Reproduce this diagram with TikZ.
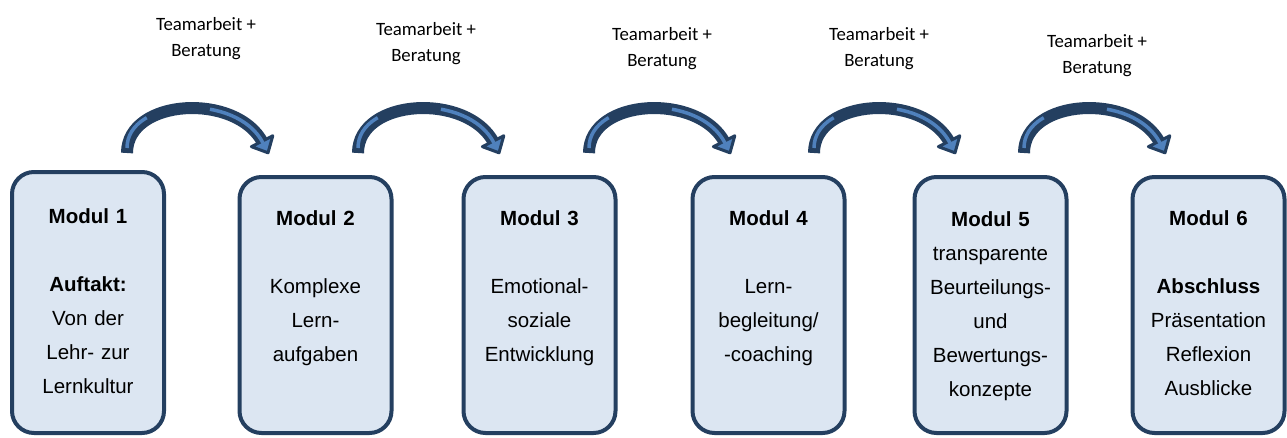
\documentclass[tikz,border=0pt]{standalone}
\usepackage{fontspec}
\setmainfont{Liberation Sans}
\newfontfamily\labelfont{Carlito}
\definecolor{navy}{HTML}{243F60}
\definecolor{boxfill}{HTML}{DCE6F2}
\definecolor{arrowlight}{HTML}{4F81BD}
\tikzset{
  modbox/.style={draw=navy, line width=4pt, fill=boxfill, rounded corners=22pt,
    minimum width=152pt, inner sep=0pt, outer sep=0pt},
  modtext/.style={text width=156pt, align=center, inner sep=0pt,
    font=\fontsize{20.5}{34}\selectfont},
  teamlabel/.style={inner sep=0pt, font=\labelfont\fontsize{18.8}{26.5}\selectfont},
  headstyle/.style={fill=arrowlight, draw=navy, line width=3pt, line join=round},
  arcband/.style={draw=navy, line width=12pt},
  arcstripe/.style={draw=arrowlight, line width=3.5pt, shorten <=5pt,
    dash pattern=on 38pt off 65pt on 200pt},
}
\newcommand\teamarc[2]{%
  \coordinate (a#1s) at (#2,153);
  \coordinate (a#1e) at (#2+136,143);
  \draw[arcband] (a#1s) .. controls +(0,-55) and +(-26,-51) .. (a#1e);
  \filldraw[headstyle, shift={(a#1e)}, rotate=-63] (-2,-12) -- (11,0) -- (-2,12) -- cycle;
  \draw[arcstripe] (a#1s) .. controls +(0,-55) and +(-26,-51) .. (a#1e);
}
\newcommand\teamtext{\begin{tabular}[t]{@{}c@{}}Teamarbeit +\\ Beratung\end{tabular}}
\begin{document}
\begin{tikzpicture}[x=1pt,y=-1pt]
\useasboundingbox (0,0) rectangle (1287,437);

% boxes
\node[modbox, minimum height=261pt] (m1) at (88,302.5) {};
\node[modbox, minimum height=256pt] (m2) at (315.5,305) {};
\node[modbox, minimum height=256pt] (m3) at (539.5,305) {};
\node[modbox, minimum height=256pt] (m4) at (768.5,305) {};
\node[modbox, minimum height=256pt] (m5) at (990.5,305) {};
\node[modbox, minimum height=256pt] (m6) at (1208.5,305) {};

% box texts
\node[modtext, anchor=base] (t1) at (88,223)
  {\textbf{Modul 1}\\ \mbox{}\\ \textbf{Auftakt:}\\ Von der\\ Lehr- zur\\ Lernkultur};
\node[modtext, anchor=base] (t2) at (315.5,225)
  {\textbf{Modul 2}\\ \mbox{}\\ Komplexe\\ Lern-\\ aufgaben};
\node[modtext, anchor=base] (t3) at (539.5,225)
  {\textbf{Modul 3}\\ \mbox{}\\ Emotional-\\ soziale\\ Entwicklung};
\node[modtext, anchor=base] (t4) at (768.5,225)
  {\textbf{Modul 4}\\ \mbox{}\\ Lern-\\ begleitung/\\ -coaching};
\node[modtext, anchor=base] (t5) at (990.5,226)
  {\textbf{Modul 5}\\ transparente\\ Beurteilungs-\\ und\\ Bewertungs-\\ konzepte};
\node[modtext, anchor=base] (t6) at (1208.5,225)
  {\textbf{Modul 6}\\ \mbox{}\\ \textbf{Abschluss}\\ Präsentation\\ Reflexion\\ Ausblicke};

% labels
\node[teamlabel, anchor=base] (l1) at (206,30) {\teamtext};
\node[teamlabel, anchor=base] (l2) at (426,35) {\teamtext};
\node[teamlabel, anchor=base] (l3) at (662,40) {\teamtext};
\node[teamlabel, anchor=base] (l4) at (879,40) {\teamtext};
\node[teamlabel, anchor=base] (l5) at (1097,47) {\teamtext};

% arc arrows
\teamarc{1}{127}
\teamarc{2}{358}
\teamarc{3}{589}
\teamarc{4}{814}
\teamarc{5}{1024}
\end{tikzpicture}
\end{document}
